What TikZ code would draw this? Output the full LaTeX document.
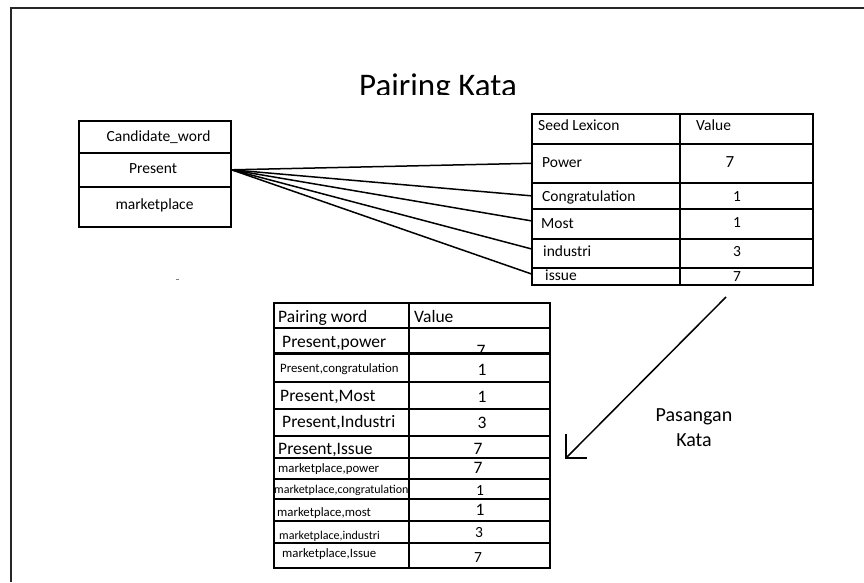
\documentclass[tikz,border=0pt]{standalone}
\usepackage{fontspec}
\setmainfont{Carlito}
\begin{document}
\begin{tikzpicture}[x=1pt,y=-1pt,
  cell/.style={draw, line width=1.6pt, inner sep=0pt, anchor=north west},
  txt/.style={inner sep=0pt, anchor=base west},
  num/.style={inner sep=0pt, anchor=base},
  link/.style={line width=1.5pt},
  fa/.style={font=\fontsize{15.5}{18}\selectfont},
  fb/.style={font=\fontsize{17.5}{20}\selectfont},
  fc/.style={font=\fontsize{12.8}{15}\selectfont},
  fd/.style={font=\fontsize{12}{14}\selectfont}]
\useasboundingbox (0,0) rectangle (864,582);
% cell: name, left, top, right, bottom
\newcommand\tcell[5]{\node[cell, minimum width={(#4-#2)*1pt}, minimum height={(#5-#3)*1pt}] (#1) at (#2,#3) {};}

% page frame
\draw[line width=1.5pt, black!85] (11,582) -- (11,8) -- (864,8);

% title, cut off along its lower edge
\begin{scope}
  \clip (300,60) rectangle (600,94.5);
  \node[num, font=\fontsize{33}{38}\selectfont] (title) at (438,96.5) {Pairing Kata};
\end{scope}

% candidate words
\tcell{cHead}{78}{120}{230}{152}
\tcell{present}{78}{152}{230}{186}
\tcell{market}{78}{186}{230}{226}
\node[num, fa] (tCand) at (158.5,141) {Candidate\_word};
\node[num, fa] (tPres) at (153,173) {Present};
\node[num, fa] (tMark) at (154.5,209) {marketplace};
\draw[gray, line width=0.8pt] (176,279) -- (179,279);

% seed lexicon
\tcell{sHeadL}{531}{113}{679}{143}
\tcell{sHeadR}{679}{113}{812}{143}
\tcell{sPower}{531}{143}{679}{182}
\tcell{sPowerV}{679}{143}{812}{182}
\tcell{sCongr}{531}{182}{679}{208}
\tcell{sCongrV}{679}{182}{812}{208}
\tcell{sMost}{531}{208}{679}{238}
\tcell{sMostV}{679}{208}{812}{238}
\tcell{sIndus}{531}{238}{679}{267}
\tcell{sIndusV}{679}{238}{812}{267}
\tcell{sIssue}{531}{267}{679}{284}
\tcell{sIssueV}{679}{267}{812}{284}
\node[txt, fa] (tSeed) at (538,130) {Seed Lexicon};
\node[txt, fa] (tSVal) at (696,130) {Value};
\node[txt, fa] (tPower) at (542,167) {Power};
\node[txt, fa] (tCongr) at (542,201) {Congratulation};
\node[txt, fa] (tMost) at (541,228) {Most};
\node[txt, fa] (tIndus) at (543,256) {industri};
\node[txt, fa] (tIssue) at (545,280) {issue};
\node[num, font=\fontsize{17}{20}\selectfont] (vPower) at (730,167) {7};
\node[num, fa] (vCongr) at (737,201) {1};
\node[num, fa] (vMost) at (737,227) {1};
\node[num, fa] (vIndus) at (737,256) {3};
\node[num, fa] (vIssue) at (737,281) {7};

% links from the candidate word to each seed word
\draw[link] (present.east) -- (sPower.west);
\draw[link] (present.east) -- (sCongr.west);
\draw[link] (present.east) -- ([yshift=3pt]sMost.west);
\draw[link] (present.east) -- ([yshift=4.5pt]sIndus.west);
\draw[link] (present.east) -- ([yshift=2.5pt]sIssue.west);

% pairing table
\tcell{pHeadL}{273}{302}{408}{327}
\tcell{pHeadR}{408}{302}{549}{327}
\tcell{p1L}{273}{327}{408}{352}
\tcell{p1R}{408}{327}{549}{352}
\tcell{p2L}{273}{352}{408}{381}
\tcell{p2R}{408}{352}{549}{381}
\tcell{p3L}{273}{381}{408}{408}
\tcell{p3R}{408}{381}{549}{408}
\tcell{p4L}{273}{408}{408}{435}
\tcell{p4R}{408}{408}{549}{435}
\tcell{p5L}{273}{435}{408}{457}
\tcell{p5R}{408}{435}{549}{457}
\tcell{p6L}{273}{457}{408}{478}
\tcell{p6R}{408}{457}{549}{478}
\tcell{p7L}{273}{478}{408}{498}
\tcell{p7R}{408}{478}{549}{498}
\tcell{p8L}{273}{498}{408}{520}
\tcell{p8R}{408}{498}{549}{520}
\tcell{p9L}{273}{520}{408}{542}
\tcell{p9R}{408}{520}{549}{542}
\tcell{p10L}{273}{542}{408}{567}
\tcell{p10R}{408}{542}{549}{567}
\draw[line width=3pt] (p1L.south west) -- (p1R.south east);

\node[txt, fb] (tPair) at (278,322) {Pairing word};
\node[txt, fb] (tPVal) at (414,322) {Value};
\node[txt, fb] (q1) at (282,347) {Present,power};
\node[txt, fc] (q2) at (280,372) {Present,congratulation};
\node[txt, fb] (q3) at (280,401) {Present,Most};
\node[txt, fb] (q4) at (282,427) {Present,Industri};
\node[txt, fb] (q5) at (278,454) {Present,Issue};
\node[txt, fc] (q6) at (278,472) {marketplace,power};
\node[txt, fd] (q7) at (274,493) {marketplace,congratulation};
\node[txt, fc] (q8) at (277,516) {marketplace,most};
\node[txt, fd] (q9) at (279,539) {marketplace,industri};
\node[txt, fc] (q10) at (282,557) {marketplace,Issue};
\begin{scope}
  \clip (408,327) rectangle (549,351);
  \node[num, fb] (w1) at (481,356) {7};
\end{scope}
\node[num, fb] (w2) at (482,375) {1};
\node[num, fb] (w3) at (482,402) {1};
\node[num, fb] (w4) at (482,428) {3};
\node[num, fb] (w5) at (478,454) {7};
\node[num, fb] (w6) at (478,473) {7};
\node[num, fa] (w7) at (480,495) {1};
\node[num, fb] (w8) at (480,515) {1};
\node[num, fa] (w9) at (479,537) {3};
\node[num, fa] (w10) at (478,562) {7};

% arrow towards the pairing table
\coordinate (tail) at (726,297);
\coordinate (tip) at (566,458);
\draw[line width=1.5pt] (tail) -- (tip);
\draw[line width=1.5pt] (566,434) -- (tip) -- (587,458);
\node[num, font=\fontsize{20}{24}\selectfont] (lab1) at (694,421) {Pasangan};
\node[num, font=\fontsize{20}{24}\selectfont] (lab2) at (694,446) {Kata};
\end{tikzpicture}
\end{document}
